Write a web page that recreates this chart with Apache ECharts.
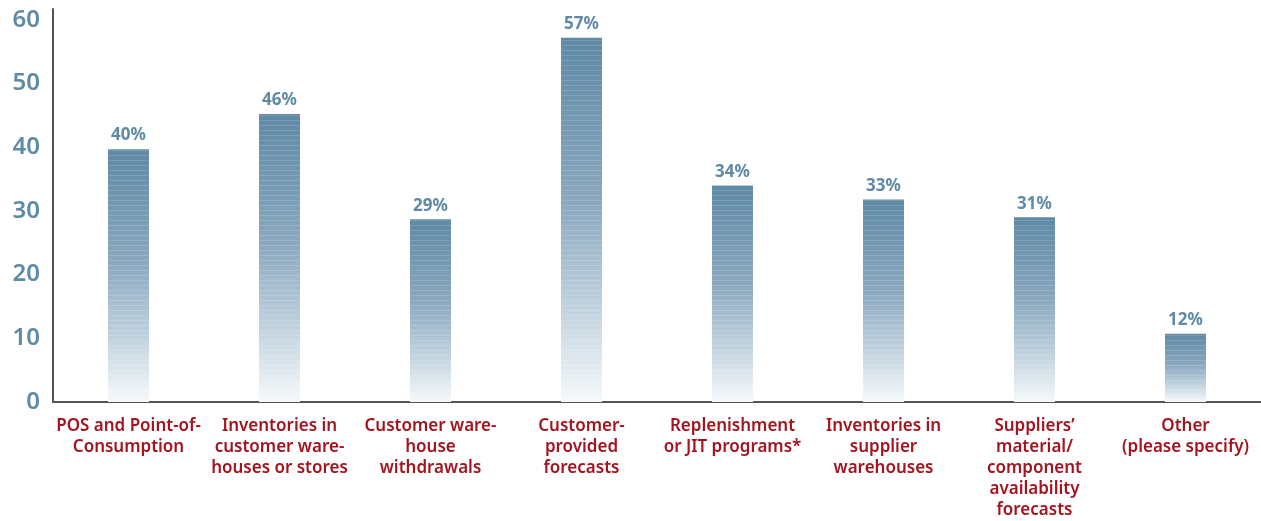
<!DOCTYPE html>
<html><head><meta charset="utf-8">
<script src="https://cdn.jsdelivr.net/npm/echarts@6/dist/echarts.min.js"></script>
<style>html,body{margin:0;padding:0;background:#fff}#c{width:1261px;height:521px}</style>
</head><body><div id="c"></div>
<script>
var categories = [
  "POS and Point-of-\nConsumption",
  "Inventories in\ncustomer ware-\nhouses or stores",
  "Customer ware-\nhouse\nwithdrawals",
  "Customer-\nprovided\nforecasts",
  "Replenishment\nor JIT programs*",
  "Inventories in\nsupplier\nwarehouses",
  "Suppliers’\nmaterial/\ncomponent\navailability\nforecasts",
  "Other\n(please specify)"
];
var values = [39.7, 45.2, 28.7, 57.2, 34.0, 31.8, 29.0, 10.7];
var valueLabels = ["40%", "46%", "29%", "57%", "34%", "33%", "31%", "12%"];
var yTicks = [0, 10, 20, 30, 40, 50, 60];

var chart = echarts.init(document.getElementById('c'));
chart.setOption({
  animation: false,
  grid: {left: 53, right: 0, top: 9, bottom: 116},
  xAxis: {
    type: 'category', data: categories,
    axisLine: {lineStyle: {color: '#555', width: 2}},
    axisTick: {show: false},
    axisLabel: {color: '#a3141f', fontSize: 17, fontWeight: 600, fontFamily: 'Noto Sans', lineHeight: 21, margin: 14, interval: 0}
  },
  yAxis: {
    type: 'value', min: 0, max: 61.7, interval: 10,
    axisLine: {show: true, lineStyle: {color: '#555', width: 2}},
    axisTick: {show: false},
    splitLine: {show: false},
    axisLabel: {color: '#5e8aa6', fontSize: 24, fontWeight: 600, fontFamily: 'Noto Sans', margin: 13,
      formatter: function(v){ return yTicks.indexOf(v) >= 0 ? String(v) : ''; }}
  },
  series: [{
    type: 'bar', barWidth: 41,
    data: values,
    itemStyle: {
      color: {type: 'linear', x: 0, y: 0, x2: 0, y2: 1, colorStops: [
        {offset: 0, color: '#5f89a5'},
        {offset: 0.45, color: '#8aa8bf'},
        {offset: 0.75, color: '#c2d3df'},
        {offset: 1, color: '#f6f9fb'}
      ]},
      decal: {symbol: 'rect', dashArrayX: [1, 0], dashArrayY: [1, 4], color: 'rgba(255,255,255,0.15)', rotation: 0, symbolSize: 1}
    },
    label: {show: true, position: 'top', distance: 5, color: '#5e8aa6', fontSize: 17, fontWeight: 'bold', fontFamily: 'Noto Sans',
      formatter: function(p){ return valueLabels[p.dataIndex]; }}
  }]
});
</script></body></html>
